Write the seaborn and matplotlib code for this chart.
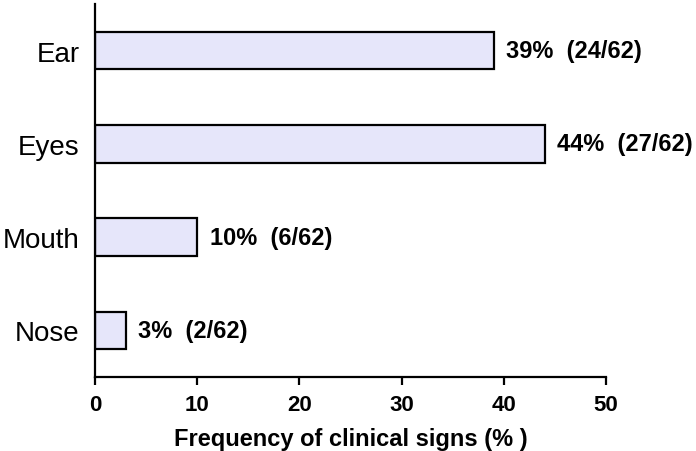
import matplotlib
matplotlib.use('Agg')
from matplotlib import pyplot as plt
import seaborn as sns
import pandas as pd

signs = ['Ear', 'Eyes', 'Mouth', 'Nose']
freq = [39, 44, 10, 3]
labels = ['39%  (24/62)', '44%  (27/62)', '10%  (6/62)', '3%  (2/62)']

df = pd.DataFrame({'sign': signs, 'freq': freq})

sns.set_style('ticks')
plt.rcParams['font.family'] = ['Liberation Sans', 'DejaVu Sans']
plt.rcParams['text.color'] = 'black'
plt.rcParams['xtick.color'] = 'black'
plt.rcParams['ytick.color'] = 'black'
plt.rcParams['axes.labelcolor'] = 'black'

fig = plt.figure(figsize=(6.96, 4.52), dpi=100)
ax = fig.add_axes([0.1365, 0.1637, 0.7342, 0.8253])

sns.barplot(data=df, x='freq', y='sign', orient='h', color='#E6E6FA',
            edgecolor='black', linewidth=1.6, width=0.4, saturation=1, ax=ax)

for i, (v, lab) in enumerate(zip(freq, labels)):
    ax.annotate(lab, (v, i), xytext=(9, 0), textcoords='offset points',
                va='center', ha='left', fontsize=17, fontweight='bold')

ax.set_xlim(0, 50)
ax.set_ylim(3.5, -0.5)
ax.set_xticks([0, 10, 20, 30, 40, 50])
ax.set_xlabel('Frequency of clinical signs (% )', fontsize=17, fontweight='bold', labelpad=9)
ax.set_ylabel('')
sns.despine(ax=ax)
for s in ['left', 'bottom']:
    ax.spines[s].set_linewidth(1.6)
    ax.spines[s].set_color('black')
ax.tick_params(axis='x', length=6, width=1.6, labelsize=16, pad=6)
ax.tick_params(axis='y', length=0, labelsize=20, pad=11)
for t in ax.get_xticklabels():
    t.set_fontweight('bold')

fig.savefig('out.png', dpi=100)
